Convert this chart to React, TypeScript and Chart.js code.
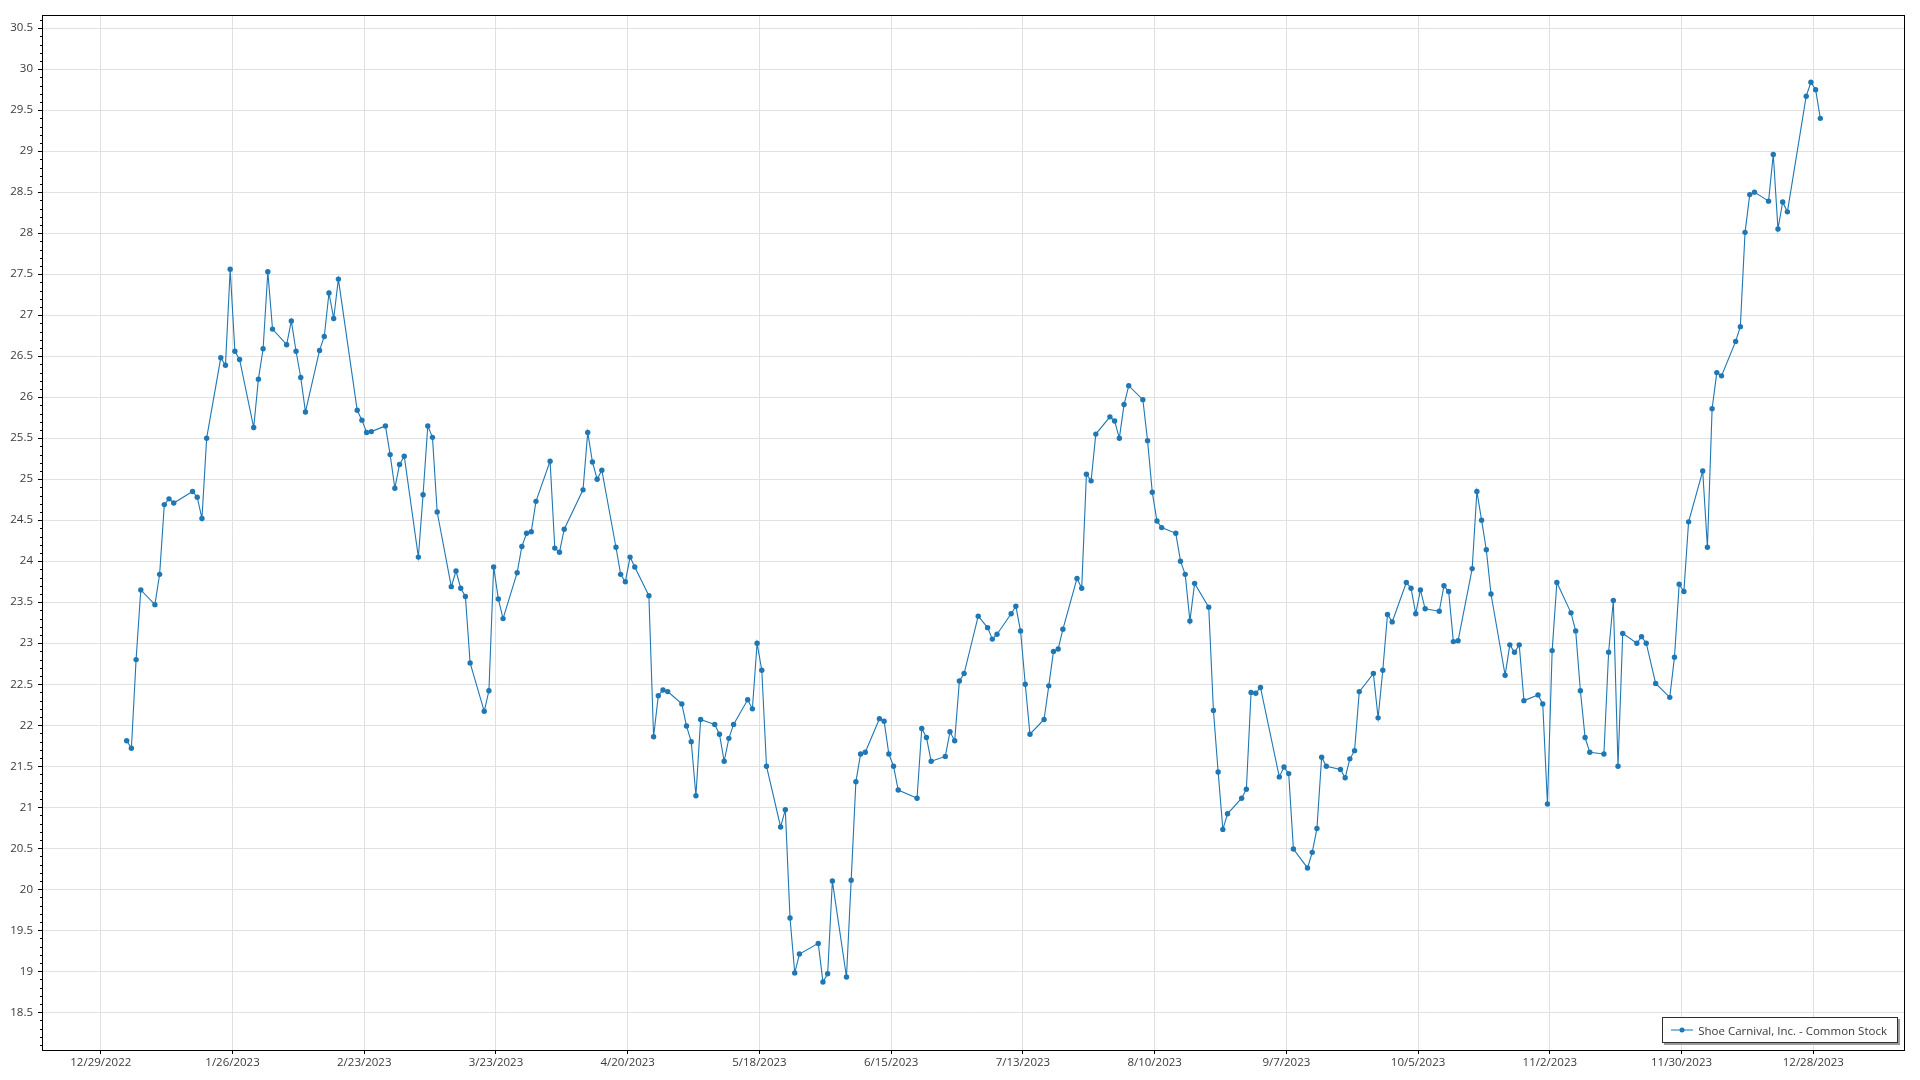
import React, { useEffect, useRef } from "react";
import { Chart, registerables } from "chart.js";

Chart.register(...registerables);

const SERIES_NAME = "Shoe Carnival, Inc. - Common Stock";
const YEAR = 2023;

const tradeDates = [
  "1/3", "1/4", "1/5", "1/6", "1/9", "1/10", "1/11", "1/12", "1/13", "1/17", "1/18", "1/19", "1/20",
  "1/23", "1/24", "1/25", "1/26", "1/27", "1/30", "1/31", "2/1", "2/2", "2/3", "2/6", "2/7", "2/8",
  "2/9", "2/10", "2/13", "2/14", "2/15", "2/16", "2/17", "2/21", "2/22", "2/23", "2/24", "2/27", "2/28",
  "3/1", "3/2", "3/3", "3/6", "3/7", "3/8", "3/9", "3/10", "3/13", "3/14", "3/15", "3/16", "3/17",
  "3/20", "3/21", "3/22", "3/23", "3/24", "3/27", "3/28", "3/29", "3/30", "3/31", "4/3", "4/4", "4/5",
  "4/6", "4/10", "4/11", "4/12", "4/13", "4/14", "4/17", "4/18", "4/19", "4/20", "4/21", "4/24", "4/25",
  "4/26", "4/27", "4/28", "5/1", "5/2", "5/3", "5/4", "5/5", "5/8", "5/9", "5/10", "5/11", "5/12",
  "5/15", "5/16", "5/17", "5/18", "5/19", "5/22", "5/23", "5/24", "5/25", "5/26", "5/30", "5/31", "6/1",
  "6/2", "6/5", "6/6", "6/7", "6/8", "6/9", "6/12", "6/13", "6/14", "6/15", "6/16", "6/20", "6/21",
  "6/22", "6/23", "6/26", "6/27", "6/28", "6/29", "6/30", "7/3", "7/5", "7/6", "7/7", "7/10", "7/11",
  "7/12", "7/13", "7/14", "7/17", "7/18", "7/19", "7/20", "7/21", "7/24", "7/25", "7/26", "7/27", "7/28",
  "7/31", "8/1", "8/2", "8/3", "8/4", "8/7", "8/8", "8/9", "8/10", "8/11", "8/14", "8/15", "8/16",
  "8/17", "8/18", "8/21", "8/22", "8/23", "8/24", "8/25", "8/28", "8/29", "8/30", "8/31", "9/1", "9/5",
  "9/6", "9/7", "9/8", "9/11", "9/12", "9/13", "9/14", "9/15", "9/18", "9/19", "9/20", "9/21", "9/22",
  "9/25", "9/26", "9/27", "9/28", "9/29", "10/2", "10/3", "10/4", "10/5", "10/6", "10/9", "10/10", "10/11",
  "10/12", "10/13", "10/16", "10/17", "10/18", "10/19", "10/20", "10/23", "10/24", "10/25", "10/26", "10/27", "10/30",
  "10/31", "11/1", "11/2", "11/3", "11/6", "11/7", "11/8", "11/9", "11/10", "11/13", "11/14", "11/15", "11/16",
  "11/17", "11/20", "11/21", "11/22", "11/24", "11/27", "11/28", "11/29", "11/30", "12/1", "12/4", "12/5", "12/6",
  "12/7", "12/8", "12/11", "12/12", "12/13", "12/14", "12/15", "12/18", "12/19", "12/20", "12/21", "12/22", "12/26",
  "12/27", "12/28", "12/29",
];

const closePrices = [
  21.81, 21.72, 22.80, 23.65, 23.47, 23.84, 24.69, 24.76, 24.71, 24.85, 24.78, 24.52, 25.50,
  26.48, 26.39, 27.56, 26.56, 26.46, 25.63, 26.22, 26.59, 27.53, 26.83, 26.64, 26.93, 26.56,
  26.24, 25.82, 26.57, 26.74, 27.27, 26.96, 27.44, 25.84, 25.72, 25.57, 25.58, 25.65, 25.30,
  24.89, 25.18, 25.28, 24.05, 24.81, 25.65, 25.51, 24.60, 23.69, 23.88, 23.67, 23.57, 22.76,
  22.17, 22.42, 23.93, 23.54, 23.30, 23.86, 24.18, 24.34, 24.36, 24.73, 25.22, 24.16, 24.11,
  24.39, 24.87, 25.57, 25.21, 25.00, 25.11, 24.17, 23.84, 23.75, 24.05, 23.93, 23.58, 21.86,
  22.36, 22.43, 22.41, 22.26, 21.99, 21.80, 21.14, 22.07, 22.01, 21.89, 21.56, 21.84, 22.01,
  22.31, 22.20, 23.00, 22.67, 21.50, 20.76, 20.97, 19.65, 18.98, 19.21, 19.34, 18.87, 18.97,
  20.10, 18.93, 20.11, 21.31, 21.65, 21.67, 22.08, 22.05, 21.65, 21.50, 21.21, 21.11, 21.96,
  21.85, 21.56, 21.62, 21.92, 21.81, 22.54, 22.63, 23.33, 23.19, 23.05, 23.11, 23.36, 23.45,
  23.15, 22.50, 21.89, 22.07, 22.48, 22.90, 22.93, 23.17, 23.79, 23.67, 25.06, 24.98, 25.55,
  25.76, 25.71, 25.50, 25.91, 26.14, 25.97, 25.47, 24.84, 24.49, 24.41, 24.34, 24.00, 23.84,
  23.27, 23.73, 23.44, 22.18, 21.43, 20.73, 20.92, 21.11, 21.22, 22.40, 22.39, 22.46, 21.37,
  21.49, 21.41, 20.49, 20.26, 20.45, 20.74, 21.61, 21.50, 21.46, 21.36, 21.59, 21.69, 22.41,
  22.63, 22.09, 22.67, 23.35, 23.26, 23.74, 23.67, 23.36, 23.65, 23.42, 23.39, 23.70, 23.63,
  23.02, 23.03, 23.91, 24.85, 24.50, 24.14, 23.60, 22.61, 22.98, 22.89, 22.98, 22.30, 22.37,
  22.26, 21.04, 22.91, 23.74, 23.37, 23.15, 22.42, 21.85, 21.67, 21.65, 22.89, 23.52, 21.50,
  23.12, 23.00, 23.08, 23.00, 22.51, 22.34, 22.83, 23.72, 23.63, 24.48, 25.10, 24.17, 25.86,
  26.30, 26.26, 26.68, 26.86, 28.01, 28.47, 28.50, 28.39, 28.96, 28.05, 28.38, 28.26, 29.67,
  29.84, 29.75, 29.40,
];

const xTickLabels = [
  "12/29/2022", "1/26/2023", "2/23/2023", "3/23/2023", "4/20/2023", "5/18/2023", "6/15/2023",
  "7/13/2023", "8/10/2023", "9/7/2023", "10/5/2023", "11/2/2023", "11/30/2023", "12/28/2023",
];

const yTickValues = [
  18.5, 19, 19.5, 20, 20.5, 21, 21.5, 22, 22.5, 23, 23.5, 24, 24.5, 25,
  25.5, 26, 26.5, 27, 27.5, 28, 28.5, 29, 29.5, 30, 30.5,
];

const Y_MIN = 18.04;
const Y_MAX = 30.66;

const DAY_MS = 86400000;
const EPOCH = Date.UTC(2022, 11, 29);

function dayNumber(month: number, day: number, year: number): number {
  return (Date.UTC(year, month - 1, day) - EPOCH) / DAY_MS;
}

function labelToDay(label: string): number {
  const [m, d, y] = label.split("/").map(Number);
  return dayNumber(m, d, y);
}

// trading sessions are placed at mid-day
const points = tradeDates.map((s, i) => {
  const [m, d] = s.split("/").map(Number);
  return { x: dayNumber(m, d, YEAR) + 0.5, y: closePrices[i] };
});

const firstX = points[0].x;
const lastX = points[points.length - 1].x;
const pad = (lastX - firstX) * 0.05;

const FONT = "'Open Sans', 'Noto Sans', sans-serif";
const LINE_COLOR = "#1f77b4";
const TEXT_COLOR = "#3a3a3a";
const GRID_COLOR = "#e1e1e1";

const frameAndMinorTicks = {
  id: "frameAndMinorTicks",
  afterDraw(chart: any) {
    const { ctx, chartArea } = chart;
    const yScale = chart.scales.y;
    ctx.save();
    ctx.strokeStyle = "#000";
    ctx.lineWidth = 1;
    ctx.beginPath();
    const left = Math.round(chartArea.left) + 0.5;
    for (let i = Math.ceil(Y_MIN * 10); i <= Math.floor(Y_MAX * 10); i++) {
      if (i % 5 === 0) continue;
      const py = Math.round(yScale.getPixelForValue(i / 10)) + 0.5;
      ctx.moveTo(left - 2.5, py);
      ctx.lineTo(left, py);
    }
    ctx.stroke();
    const top = Math.round(chartArea.top) + 0.5;
    const right = Math.round(chartArea.right) - 0.5;
    const bottom = Math.round(chartArea.bottom) + 0.5;
    ctx.strokeRect(left, top, right - left, bottom - top);
    ctx.restore();
  },
};

export default function App() {
  const canvasRef = useRef<HTMLCanvasElement | null>(null);

  useEffect(() => {
    document.body.style.margin = "0";
    document.body.style.overflow = "hidden";
    const canvas = canvasRef.current;
    if (!canvas) return;
    const chart = new Chart(canvas, {
      type: "line",
      data: {
        datasets: [
          {
            label: SERIES_NAME,
            data: points,
            borderColor: LINE_COLOR,
            backgroundColor: LINE_COLOR,
            borderWidth: 1.1,
            pointRadius: 2.7,
            pointBorderWidth: 0,
            pointBackgroundColor: LINE_COLOR,
            tension: 0,
            fill: false,
          },
        ],
      },
      options: {
        animation: false,
        responsive: true,
        maintainAspectRatio: false,
        devicePixelRatio: 1,
        layout: { padding: { top: 15, right: 15, left: 0, bottom: 0 } },
        plugins: {
          legend: { display: false },
          tooltip: { enabled: false },
        },
        scales: {
          x: {
            type: "linear",
            min: firstX - pad,
            max: lastX + pad,
            border: { display: false },
            grid: {
              color: GRID_COLOR,
              lineWidth: 1,
              drawTicks: true,
              tickLength: 4,
              tickColor: "#000",
            },
            ticks: {
              padding: 2,
              color: TEXT_COLOR,
              font: { family: FONT, size: 11.5 },
              maxRotation: 0,
              autoSkip: false,
              callback: (value: any) => {
                const found = xTickLabels.find((l) => Math.abs(labelToDay(l) - Number(value)) < 0.01);
                return found ?? "";
              },
            },
            afterBuildTicks: (scale: any) => {
              scale.ticks = xTickLabels.map((l) => ({ value: labelToDay(l) }));
            },
            afterFit: (scale: any) => {
              scale.height = 30;
            },
          },
          y: {
            type: "linear",
            min: Y_MIN,
            max: Y_MAX,
            border: { display: false },
            grid: {
              color: GRID_COLOR,
              lineWidth: 1,
              drawTicks: true,
              tickLength: 4,
              tickColor: "#000",
            },
            ticks: {
              padding: 5,
              color: TEXT_COLOR,
              font: { family: FONT, size: 11.5 },
              autoSkip: false,
              callback: (value: any) => String(Math.round(Number(value) * 10) / 10),
            },
            afterBuildTicks: (scale: any) => {
              scale.ticks = yTickValues.map((v) => ({ value: v }));
            },
            afterFit: (scale: any) => {
              scale.width = 42;
            },
          },
        },
      },
      plugins: [frameAndMinorTicks],
    });
    return () => chart.destroy();
  }, []);

  return (
    <div
      style={{
        position: "fixed",
        left: 0,
        top: 0,
        width: 1920,
        height: 1080,
        background: "#fff",
      }}
    >
      <canvas ref={canvasRef} style={{ display: "block" }} />
      <div
        style={{
          position: "absolute",
          right: 22,
          bottom: 37,
          height: 24,
          display: "flex",
          alignItems: "center",
          background: "#fff",
          border: "1px solid #303030",
          boxShadow: "2px 2px 0 #9a9a9a",
          padding: "0 10px 0 8px",
          fontFamily: FONT,
          fontSize: 11.5,
          color: TEXT_COLOR,
          whiteSpace: "nowrap",
        }}
      >
        <svg width="22" height="10" style={{ marginRight: 5 }}>
          <line x1="0" y1="5" x2="22" y2="5" stroke="#5ca3d6" strokeWidth="1.5" />
          <circle cx="11" cy="5" r="2.5" fill={LINE_COLOR} />
        </svg>
        <span>{SERIES_NAME}</span>
      </div>
    </div>
  );
}
